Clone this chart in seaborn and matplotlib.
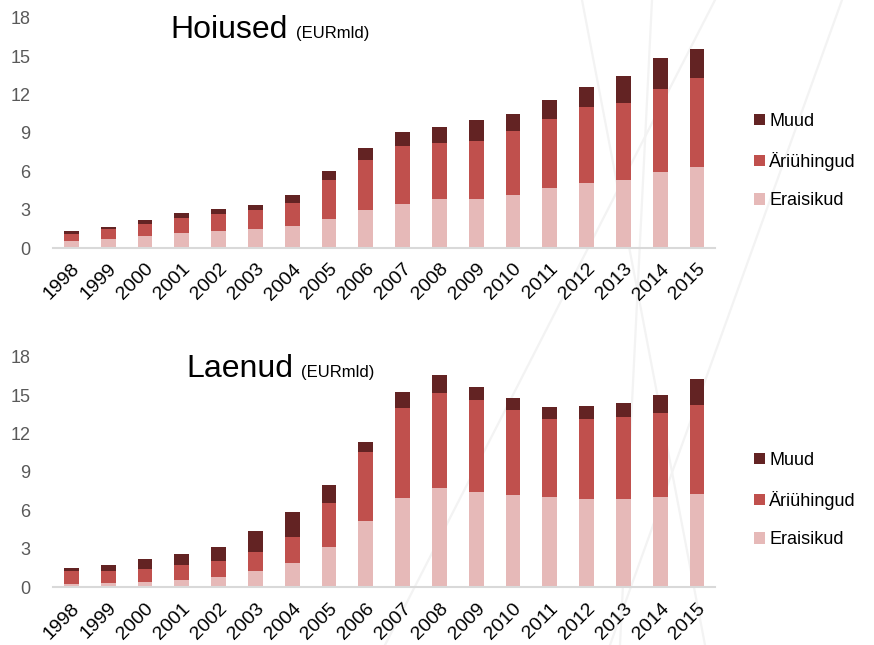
import pandas as pd
import matplotlib.pyplot as plt
import seaborn as sns
from matplotlib.patches import Patch
from matplotlib.lines import Line2D

years = [str(y) for y in range(1998, 2016)]

# Hoiused (deposits), EUR bn
dep_eraisikud = [0.57, 0.73, 0.94, 1.20, 1.36, 1.49, 1.70, 2.27, 2.97, 3.42, 3.81, 3.86, 4.17, 4.67, 5.11, 5.32, 5.92, 6.36]
dep_ariuhingud = [0.53, 0.73, 0.96, 1.12, 1.27, 1.46, 1.85, 3.05, 3.92, 4.56, 4.38, 4.54, 4.98, 5.42, 5.92, 6.00, 6.52, 6.92]
dep_muud = [0.25, 0.18, 0.29, 0.39, 0.45, 0.41, 0.57, 0.71, 0.91, 1.10, 1.30, 1.62, 1.34, 1.49, 1.54, 2.16, 2.40, 2.27]

# Laenud (loans), EUR bn
loan_eraisikud = [0.26, 0.34, 0.44, 0.60, 0.83, 1.25, 1.87, 3.17, 5.18, 6.97, 7.72, 7.46, 7.23, 7.05, 6.89, 6.89, 7.05, 7.31]
loan_ariuhingud = [1.01, 0.96, 1.02, 1.12, 1.22, 1.48, 2.08, 3.38, 5.35, 7.00, 7.42, 7.13, 6.61, 6.08, 6.24, 6.37, 6.55, 6.94]
loan_muud = [0.21, 0.42, 0.72, 0.85, 1.12, 1.67, 1.95, 1.43, 0.81, 1.30, 1.45, 1.01, 0.91, 0.94, 0.99, 1.12, 1.41, 2.00]

labels = ['Muud', 'Äriühingud', 'Eraisikud']
colors = {'Muud': '#632323', 'Äriühingud': '#C0504D', 'Eraisikud': '#E6B9B8'}

sns.set_style('white')
plt.rcParams['font.family'] = ['Liberation Sans', 'DejaVu Sans']
plt.rcParams['text.color'] = 'black'

W, H = 874, 645
fig = plt.figure(figsize=(W / 100, H / 100), dpi=100)


def px(x, y):
    # pixel coords (y down) -> figure fraction
    return x / W, 1 - y / H


# faint decorative background lines
for (x0, y0), (x1, y1) in [((582, 0), (705, 645)), ((652, 0), (620, 645)),
                           ((715, 0), (385, 645)), ((842, 0), (610, 645))]:
    a, b = px(x0, y0)
    c, d = px(x1, y1)
    fig.add_artist(Line2D([a, c], [b, d], transform=fig.transFigure,
                          color='#F3F3F3', lw=1.6, zorder=-5))


def stacked(ax, erais, ari, muud):
    df = pd.DataFrame({'year': years, 'Eraisikud': erais, 'Äriühingud': ari, 'Muud': muud})
    df['lvl2'] = df['Eraisikud'] + df['Äriühingud']
    df['lvl3'] = df['lvl2'] + df['Muud']
    for col, c in [('lvl3', 'Muud'), ('lvl2', 'Äriühingud'), ('Eraisikud', 'Eraisikud')]:
        sns.barplot(data=df, x='year', y=col, color=colors[c], saturation=1,
                    width=0.4, errorbar=None, edgecolor='none', ax=ax)
    ax.set_xlim(-0.5, 17.5)
    ax.set_ylim(0, 18)
    ax.set_yticks(range(0, 19, 3))
    ax.set_xlabel('')
    ax.set_ylabel('')
    ax.tick_params(axis='y', labelsize=13, labelcolor='#595959', length=0, pad=16)
    ax.tick_params(axis='x', labelsize=14, labelcolor='black', length=0, pad=9)
    for lab in ax.get_xticklabels():
        lab.set_rotation(45)
        lab.set_ha('right')
        lab.set_va('top')
        lab.set_rotation_mode('anchor')
    sns.despine(ax=ax, left=True)
    ax.spines['bottom'].set_color('#D9D9D9')
    ax.spines['bottom'].set_linewidth(1.5)
    ax.set_facecolor('none')


ax1 = fig.add_axes([0.0606, 0.6155, 0.758, 0.3566])
ax2 = fig.add_axes([0.0606, 0.0895, 0.758, 0.3575])
stacked(ax1, dep_eraisikud, dep_ariuhingud, dep_muud)
stacked(ax2, loan_eraisikud, loan_ariuhingud, loan_muud)

# titles
x, y = px(170, 38)
fig.text(x, y, 'Hoiused', fontsize=23, va='baseline', ha='left')
x, y = px(296, 38)
fig.text(x, y, '(EURmld)', fontsize=12, va='baseline', ha='left')
x, y = px(186, 377)
fig.text(x, y, 'Laenud', fontsize=23, va='baseline', ha='left')
x, y = px(301, 377)
fig.text(x, y, '(EURmld)', fontsize=12, va='baseline', ha='left')

handles = [Patch(facecolor=colors[l], edgecolor='none', label=l) for l in labels]
for top in (113, 452):
    fig.legend(handles=handles, loc='upper left', bbox_to_anchor=px(754, top),
               frameon=False, fontsize=13, handlelength=0.6, handleheight=0.6,
               handletextpad=0.25, labelspacing=1.2, borderpad=0, borderaxespad=0)

fig.savefig('out.png', dpi=100)
